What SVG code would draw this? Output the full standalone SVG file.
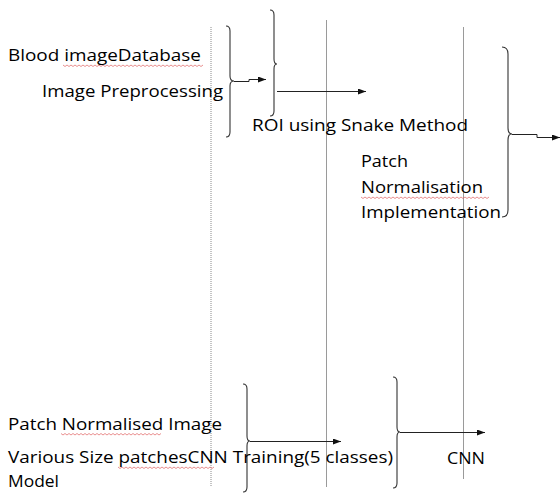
<svg xmlns="http://www.w3.org/2000/svg" width="560" height="493" viewBox="0 0 560 493">
<style>
  .t { font-family: "Open Sans", "Liberation Sans", sans-serif; font-size: 16.5px; fill: #000; }
  .vl { stroke: #9a9a9a; stroke-width: 1; fill: none; }
  .dot { stroke: #8a8a8a; stroke-width: 1; stroke-dasharray: 1 1; fill: none; }
  .br { stroke: #333; stroke-width: 1.1; fill: none; }
  .cn { stroke: #222; stroke-width: 1; fill: none; marker-end: url(#ah); }
  .sq { stroke: #e06060; stroke-width: 0.7; fill: none; }
</style>
<defs>
  <marker id="ah" viewBox="0 0 8 6" refX="8" refY="3" markerWidth="8" markerHeight="6" markerUnits="userSpaceOnUse" orient="auto">
    <path d="M0,0 L8,3 L0,6 Z" fill="#111"/>
  </marker>
</defs>
<rect width="560" height="493" fill="#fff"/>

<g id="gridlines">
  <line class="dot" x1="211" y1="27" x2="211" y2="487"/>
  <line class="vl" x1="326.5" y1="20" x2="326.5" y2="487"/>
  <line class="vl" x1="463.5" y1="27" x2="463.5" y2="479"/>
</g>

<g id="braces">
  <path class="br" d="M226,26 Q230,26 230,31 V76 Q230,81 234,81 Q230,81 230,86 V132 Q230,137 226,137"/>
  <path class="br" d="M270,10 Q274,10 274,15 V59 Q274,64 277,64 Q274,64 274,69 V111 Q274,116 270,116"/>
  <path class="br" d="M502,47 Q508,47 508,54 V128 Q508,134 512,134 Q508,134 508,140 V210 Q508,217 502,217"/>
  <path class="br" d="M243,384 Q247,384 247,389 V436 Q247,441 250,441 Q247,441 247,446 V487 Q247,492 243,492"/>
  <path class="br" d="M393,377 Q397,377 397,382 V427 Q397,432 400,432 Q397,432 397,437 V483 Q397,488 393,488"/>
</g>

<g id="connectors">
  <path class="cn" d="M234,81.5 H249 V79.5 H266"/>
  <path class="cn" d="M277,91.5 H366"/>
  <path class="cn" d="M512,134.5 H537 V137.5 H560"/>
  <path class="cn" d="M250,441.5 H341"/>
  <path class="cn" d="M400,432.5 H485"/>
</g>

<g id="spellmarks">
  <path class="sq" d="M63,65 l2,1.5 l2,-1.5 l2,1.5 l2,-1.5 l2,1.5 l2,-1.5 l2,1.5 l2,-1.5 l2,1.5 l2,-1.5 l2,1.5 l2,-1.5 l2,1.5 l2,-1.5 l2,1.5 l2,-1.5 l2,1.5 l2,-1.5 l2,1.5 l2,-1.5 l2,1.5 l2,-1.5 l2,1.5 l2,-1.5 l2,1.5 l2,-1.5 l2,1.5 l2,-1.5 l2,1.5 l2,-1.5 l2,1.5 l2,-1.5 l2,1.5 l2,-1.5 l2,1.5 l2,-1.5 l2,1.5 l2,-1.5 l2,1.5 l2,-1.5 l2,1.5 l2,-1.5 l2,1.5 l2,-1.5 l2,1.5 l2,-1.5 l2,1.5 l2,-1.5 l2,1.5 l2,-1.5 l2,1.5 l2,-1.5 l2,1.5 l2,-1.5 l2,1.5 l2,-1.5 l2,1.5 l2,-1.5 l2,1.5 l2,-1.5 l2,1.5 l2,-1.5 l2,1.5 l2,-1.5 l2,1.5 l2,-1.5 l2,1.5 l2,-1.5 l2,1.5 l2,-1.5"/>
  <path class="sq" d="M361,197 l2,1.5 l2,-1.5 l2,1.5 l2,-1.5 l2,1.5 l2,-1.5 l2,1.5 l2,-1.5 l2,1.5 l2,-1.5 l2,1.5 l2,-1.5 l2,1.5 l2,-1.5 l2,1.5 l2,-1.5 l2,1.5 l2,-1.5 l2,1.5 l2,-1.5 l2,1.5 l2,-1.5 l2,1.5 l2,-1.5 l2,1.5 l2,-1.5 l2,1.5 l2,-1.5 l2,1.5 l2,-1.5 l2,1.5 l2,-1.5 l2,1.5 l2,-1.5 l2,1.5 l2,-1.5 l2,1.5 l2,-1.5 l2,1.5 l2,-1.5 l2,1.5 l2,-1.5 l2,1.5 l2,-1.5 l2,1.5 l2,-1.5 l2,1.5 l2,-1.5 l2,1.5 l2,-1.5 l2,1.5 l2,-1.5 l2,1.5 l2,-1.5 l2,1.5 l2,-1.5 l2,1.5 l2,-1.5 l2,1.5 l2,-1.5 l2,1.5 l2,-1.5 l2,1.5 l2,-1.5"/>
  <path class="sq" d="M61,433.5 l2,1.5 l2,-1.5 l2,1.5 l2,-1.5 l2,1.5 l2,-1.5 l2,1.5 l2,-1.5 l2,1.5 l2,-1.5 l2,1.5 l2,-1.5 l2,1.5 l2,-1.5 l2,1.5 l2,-1.5 l2,1.5 l2,-1.5 l2,1.5 l2,-1.5 l2,1.5 l2,-1.5 l2,1.5 l2,-1.5 l2,1.5 l2,-1.5 l2,1.5 l2,-1.5 l2,1.5 l2,-1.5 l2,1.5 l2,-1.5 l2,1.5 l2,-1.5 l2,1.5 l2,-1.5 l2,1.5 l2,-1.5 l2,1.5 l2,-1.5 l2,1.5 l2,-1.5 l2,1.5 l2,-1.5 l2,1.5 l2,-1.5 l2,1.5 l2,-1.5 l2,1.5 l2,-1.5"/>
  <path class="sq" d="M118,467 l2,1.5 l2,-1.5 l2,1.5 l2,-1.5 l2,1.5 l2,-1.5 l2,1.5 l2,-1.5 l2,1.5 l2,-1.5 l2,1.5 l2,-1.5 l2,1.5 l2,-1.5 l2,1.5 l2,-1.5 l2,1.5 l2,-1.5 l2,1.5 l2,-1.5 l2,1.5 l2,-1.5 l2,1.5 l2,-1.5 l2,1.5 l2,-1.5 l2,1.5 l2,-1.5 l2,1.5 l2,-1.5 l2,1.5 l2,-1.5 l2,1.5 l2,-1.5 l2,1.5 l2,-1.5 l2,1.5 l2,-1.5 l2,1.5 l2,-1.5 l2,1.5 l2,-1.5 l2,1.5 l2,-1.5 l2,1.5 l2,-1.5 l2,1.5 l2,-1.5"/>
</g>

<g id="n-blood"><text class="t" x="8" y="61" textLength="193" lengthAdjust="spacingAndGlyphs">Blood imageDatabase</text></g>
<g id="n-preprocessing"><text class="t" x="42" y="97" textLength="181" lengthAdjust="spacingAndGlyphs">Image Preprocessing</text></g>
<g id="n-roi"><text class="t" x="252" y="131" textLength="216" lengthAdjust="spacingAndGlyphs">ROI using Snake Method</text></g>
<g id="n-patchnorm">
  <text class="t" x="361" y="167" textLength="47" lengthAdjust="spacingAndGlyphs">Patch</text>
  <text class="t" x="361" y="193" textLength="122" lengthAdjust="spacingAndGlyphs">Normalisation</text>
  <text class="t" x="361" y="218" textLength="140" lengthAdjust="spacingAndGlyphs">Implementation</text>
</g>
<g id="n-patchimage"><text class="t" x="8" y="430" textLength="214" lengthAdjust="spacingAndGlyphs">Patch Normalised Image</text></g>
<g id="n-training"><text class="t" x="8" y="463" textLength="385" lengthAdjust="spacingAndGlyphs">Various Size patchesCNN Training(5 classes)</text></g>
<g id="n-model"><text class="t" x="8" y="487" textLength="51" lengthAdjust="spacingAndGlyphs">Model</text></g>
<g id="n-cnn"><text class="t" x="447" y="464" textLength="38" lengthAdjust="spacingAndGlyphs">CNN</text></g>
</svg>
